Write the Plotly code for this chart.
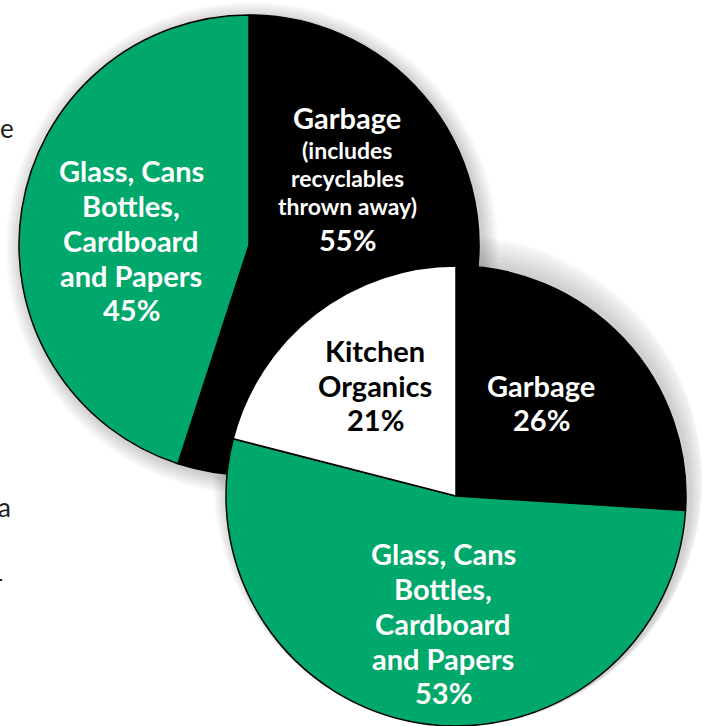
import plotly.graph_objects as go

W, H = 702, 726

# ---- data ----
pie1_labels = ["Garbage (includes recyclables thrown away)", "Glass, Cans Bottles, Cardboard and Papers"]
pie1_values = [55, 45]
pie2_labels = ["Garbage", "Glass, Cans Bottles, Cardboard and Papers", "Kitchen Organics"]
pie2_values = [26, 53, 21]

GREEN = "#00A86B"
BLACK = "#000000"
WHITE = "#FFFFFF"
pie1_colors = [BLACK, GREEN]
pie2_colors = [BLACK, GREEN, WHITE]


def px_dom(cx, cy, r):
    x0, x1 = (cx - r) / W, (cx + r) / W
    y0, y1 = 1 - (cy + r) / H, 1 - (cy - r) / H
    return dict(x=[max(0, x0), min(1, x1)], y=[max(0, y0), min(1, y1)])


fig = go.Figure()

GLOW = [16, 14, 12, 10, 8, 6, 4, 2]

for k in GLOW:
    fig.add_trace(go.Pie(values=[1], marker=dict(colors=["rgba(0,0,0,0.025)"], line=dict(width=0)),
                         textinfo="none", hoverinfo="skip", showlegend=False, sort=False,
                         domain=px_dom(249 + 3, 245 + 3, 230 + k)))

fig.add_trace(go.Pie(labels=pie1_labels, values=pie1_values, sort=False, direction="clockwise",
                     rotation=0, marker=dict(colors=pie1_colors, line=dict(color="black", width=1.5)),
                     textinfo="none", showlegend=False, domain=px_dom(249, 245, 230)))

for k in GLOW:
    d = dict(x=[(456 + 3 - 230 - k) / W, min(1, (456 + 3 + 230 + k) / W)],
             y=[0, 1 - (726 - 2 * (230 + k)) / H])
    fig.add_trace(go.Pie(values=[1], marker=dict(colors=["rgba(0,0,0,0.025)"], line=dict(width=0)),
                         textinfo="none", hoverinfo="skip", showlegend=False, sort=False, domain=d))

fig.add_trace(go.Pie(labels=pie2_labels, values=pie2_values, sort=False, direction="clockwise",
                     rotation=0, marker=dict(colors=pie2_colors, line=dict(color="black", width=1.5)),
                     textinfo="none", showlegend=False, domain=px_dom(456, 496, 230)))

FONT = "Lato"
BIG, SMALL = 29, 23


def lines(items, x, color):
    # items: list of (text, y_px, size)
    for t, y, s in items:
        fig.add_annotation(text=f"<b>{t}</b>", x=x / W, y=1 - y / H, xref="paper", yref="paper",
                           showarrow=False, xanchor="center", yanchor="middle",
                           font=dict(family=FONT, size=s, color=color))


# pie 1 labels
lines([("Garbage", 118, BIG), ("(includes", 150, SMALL), ("recyclables", 178, SMALL),
       ("thrown away)", 206, SMALL), (f"{pie1_values[0]}%", 239, BIG)], 347, WHITE)
lines([("Glass, Cans", 170, BIG), ("Bottles,", 205, BIG), ("Cardboard", 240, BIG),
       ("and Papers", 275, BIG), (f"{pie1_values[1]}%", 309, BIG)], 131, WHITE)

# pie 2 labels
lines([("Kitchen", 350, BIG), ("Organics", 385, BIG), (f"{pie2_values[2]}%", 420, BIG)], 375, BLACK)
lines([("Garbage", 385, BIG), (f"{pie2_values[0]}%", 420, BIG)], 541, WHITE)
lines([("Glass, Cans", 553, BIG), ("Bottles,", 588, BIG), ("Cardboard", 623, BIG),
       ("and Papers", 658, BIG), (f"{pie2_values[1]}%", 692, BIG)], 443, WHITE)

# cropped body text fragments on the left edge
for t, y, xr in [("e", 128, 16), ("a", 507, 13), ("-", 578, 6)]:
    fig.add_annotation(text=t, x=xr / W, y=1 - y / H, xref="paper", yref="paper", showarrow=False,
                       xanchor="right", yanchor="middle",
                       font=dict(family="Lato", size=26, color="#222222"))

fig.update_layout(width=W, height=H, margin=dict(l=0, r=0, t=0, b=0),
                  paper_bgcolor="white", plot_bgcolor="white", showlegend=False)

fig.write_html("out.html")
